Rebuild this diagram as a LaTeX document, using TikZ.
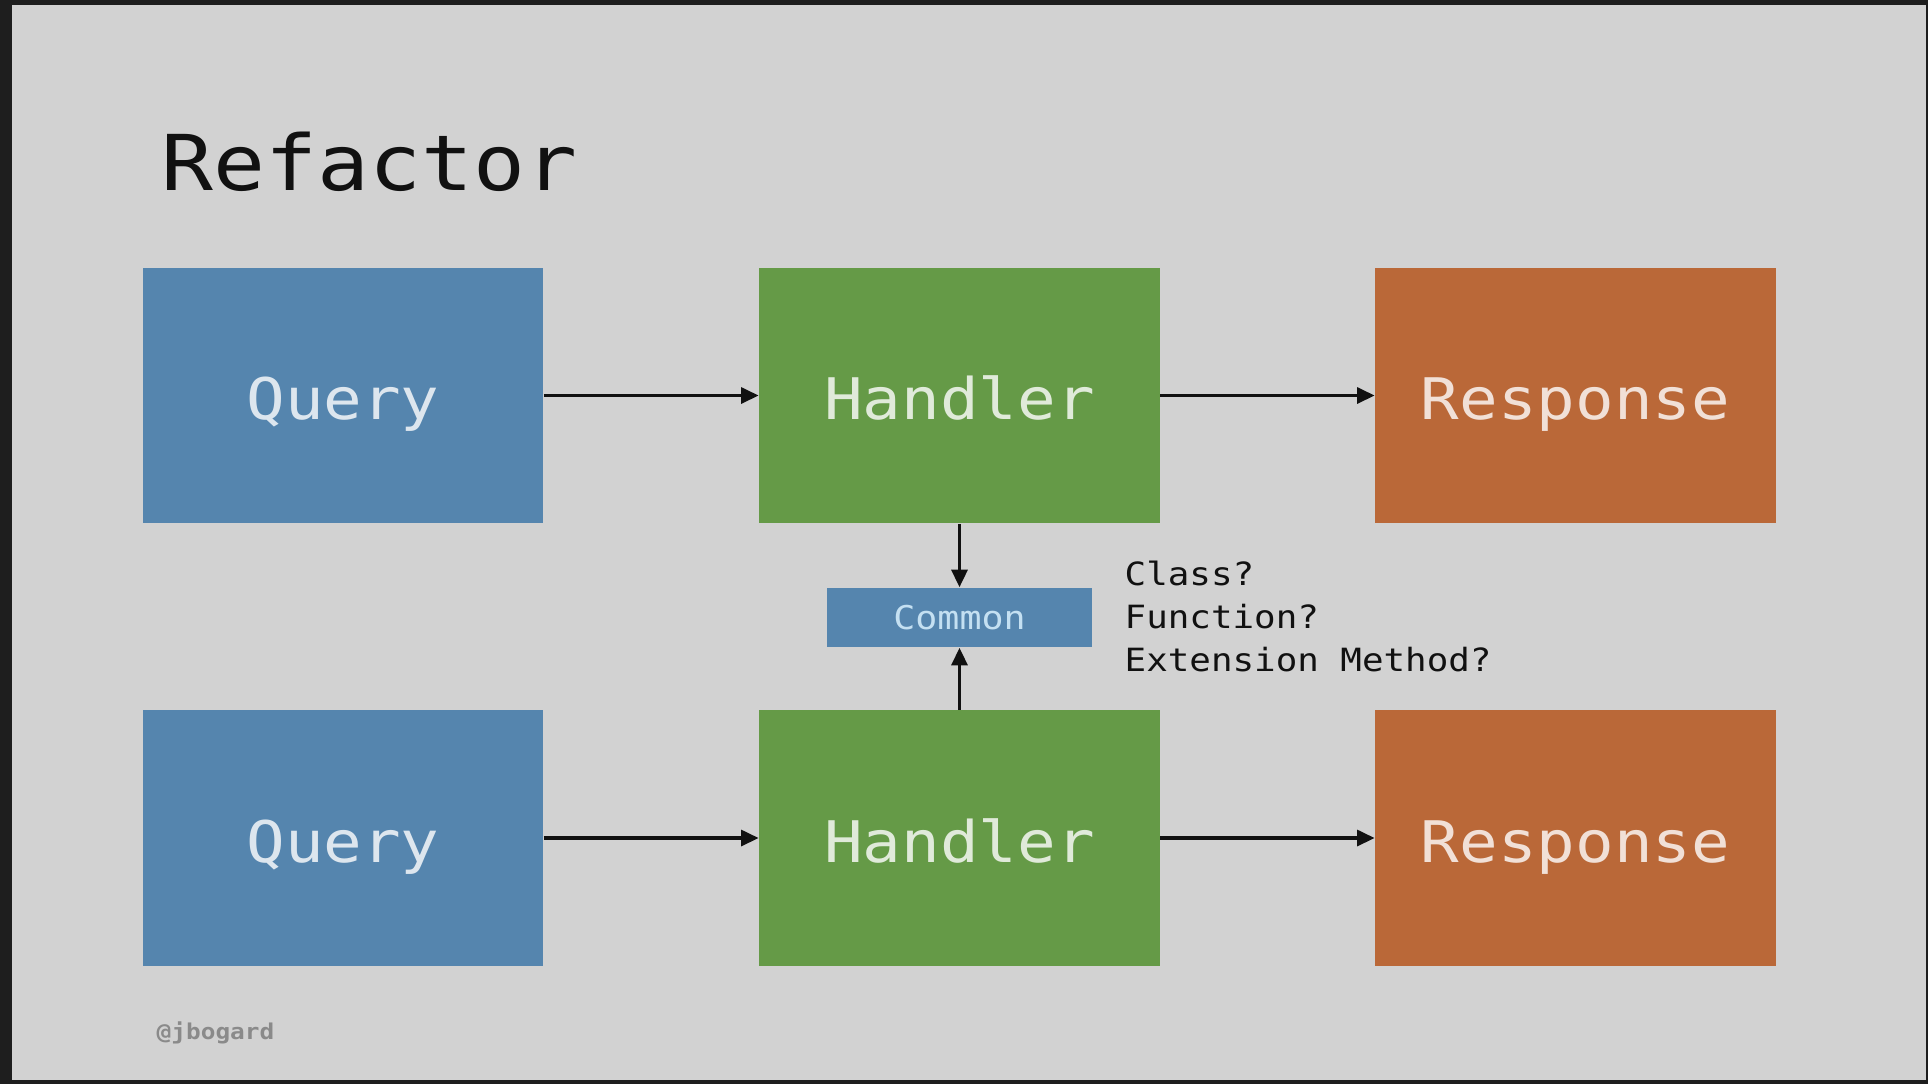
\documentclass[tikz,border=0pt]{standalone}
\usepackage{fontspec}
\setmonofont[FakeStretch=1.12]{DejaVu Sans Mono}
\usetikzlibrary{arrows.meta}
\definecolor{slidebg}{HTML}{D2D2D2}
\definecolor{framedark}{HTML}{1E1E1E}
\definecolor{qblue}{HTML}{5585AE}
\definecolor{hgreen}{HTML}{659A47}
\definecolor{rorange}{HTML}{BA6838}
\definecolor{commontext}{HTML}{C4E0F2}
\definecolor{footgray}{HTML}{8A8A8A}
\definecolor{inkdark}{HTML}{111111}

\begin{document}
\begin{tikzpicture}[x=0.01cm, y=-0.01cm, font=\ttfamily]
		\useasboundingbox (0,0) rectangle (1928,1084);
		\fill[framedark] (0,0) rectangle (1928,1084);
		\fill[slidebg] (12,5) rectangle (1926,1080);
		\node[anchor=base west, inner sep=0, text=inkdark, font=\ttfamily\fontsize{21.9}{24}\selectfont] (title) at (161,190) {Refactor};
		\begin{scope}[every node/.style={minimum width=4cm, minimum height=2.55cm, inner sep=0, text=white, text opacity=0.8, font=\ttfamily\fontsize{16.3}{18}\selectfont, text height=13.9pt, text depth=0pt}]
			\node[fill=qblue] (q1) at (343,395.5) {Query};
			\node[fill=hgreen] (h1) at (959.5,395.5) {Handler};
			\node[fill=rorange] (r1) at (1575.5,395.5) {Response};
			\node[fill=qblue] (q2) at (343,838) {Query};
			\node[fill=hgreen] (h2) at (959.5,838) {Handler};
			\node[fill=rorange] (r2) at (1575.5,838) {Response};
		\end{scope}
		\node[fill=qblue, minimum width=2.64cm, minimum height=0.59cm, inner sep=0, text=commontext, font=\ttfamily\fontsize{9.3}{11}\selectfont, text height=6.54pt, text depth=0pt] (common) at (959.5,617.5) {Common};
		\begin{scope}[every node/.style={anchor=base west, inner sep=0, text=inkdark, font=\ttfamily\fontsize{9.1}{11}\selectfont}]
			\node (cls) at (1124,585) {Class?};
			\node (fun) at (1124,628) {Function?};
			\node (ext) at (1124,671) {Extension Method?};
		\end{scope}
		\node[anchor=base west, inner sep=0, text=footgray, font=\ttfamily\bfseries\fontsize{6.2}{7}\selectfont] (handle) at (156,1039) {@jbogard};
		\begin{scope}[every path/.style={line width=1pt, draw=inkdark, -{Triangle[length=5pt,width=4.5pt]}}]
			\path (q1) edge (h1);
			\path (h1)
			edge (r1)
			edge (common);
			\path (q2) edge (h2);
			\path (h2)
			edge (r2)
			edge (common);
		\end{scope}
	\end{tikzpicture}
\end{document}
